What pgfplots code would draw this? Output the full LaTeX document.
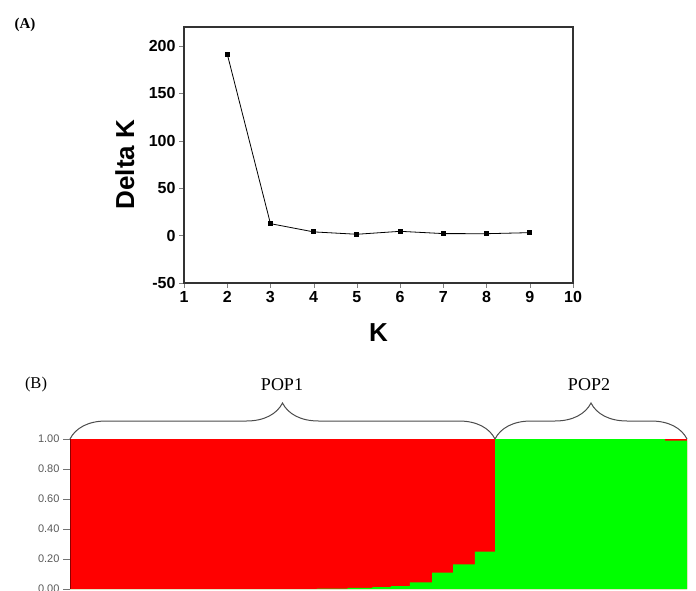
\documentclass[border=0pt]{standalone}
\usepackage{fontspec}
\setmainfont{Liberation Serif}
\setsansfont{Liberation Sans}
\usepackage{pgfplots}
\usepackage{pgfplotstable}
\pgfplotsset{compat=1.18}
\usetikzlibrary{decorations.pathreplacing}

% (A) Delta K against K
\pgfplotstableread{
K deltaK
2 191.6
3 12.6
4 3.9
5 1.4
6 4.5
7 2.1
8 2.0
9 3.1
}\deltak

% (B) green share, read along the ordered individuals
\pgfplotstableread{
x q
0 0
40 0.003
45 0.008
49 0.012
52 0.02
55.1 0.045
58.7 0.11
62.1 0.165
65.6 0.25
68.9 1.0
96.4 0.99
100 0.99
}\popq

\begin{document}
\begin{tikzpicture}
\useasboundingbox (0,0) rectangle (696pt,590pt);

\node[font=\bfseries\fontsize{15}{15}\selectfont] at (25pt,565pt) {(A)};
\begin{axis}[
  at={(184pt,307pt)}, anchor=south west,
  scale only axis, width=389pt, height=256pt,
  xmin=1, xmax=10, ymin=-50, ymax=220,
  xtick={1,...,10}, ytick={-50,0,50,100,150,200},
  tick align=outside, tick pos=left,
  major tick length=5pt,
  axis line style={line width=1.2pt, black!80},
  /pgf/number format/assume math mode=true,
  ticklabel style={font=\sffamily\bfseries\fontsize{16}{16}\selectfont},
  xlabel={K}, ylabel={Delta K},
  label style={font=\sffamily\bfseries\fontsize{26}{26}\selectfont},
  xlabel style={at={(axis description cs:0.5,-0.195)}, anchor=center},
  ylabel style={at={(axis description cs:-0.152,0.463)}, anchor=center},
]
\addplot[black, line width=0.8pt, mark=square*, mark size=2pt] table[x=K,y=deltaK]{\deltak};
\end{axis}

\node[font=\fontsize{16.5}{16.5}\selectfont] at (36pt,205pt) {(B)};
\node[font=\fontsize{18}{18}\selectfont] at (282pt,205pt) {POP1};
\node[font=\fontsize{18}{18}\selectfont] at (589pt,205pt) {POP2};
\draw[black!70, line width=1pt, decorate, decoration={brace, amplitude=36pt}] (70pt,151pt) -- (495pt,151pt);
\draw[black!70, line width=1pt, decorate, decoration={brace, amplitude=36pt}] (495pt,151pt) -- (687pt,151pt);

\begin{axis}[
  at={(70pt,1pt)}, anchor=south west,
  scale only axis, width=617pt, height=150pt,
  xmin=0, xmax=100, ymin=0, ymax=1,
  axis x line=none, axis y line*=left,
  axis on top,
  ytick={0,0.2,0.4,0.6,0.8,1},
  yticklabel style={/pgf/number format/.cd, fixed, fixed zerofill, precision=2},
  tick align=outside, major tick length=7pt,
  y axis line style={red!55!black, line width=0.8pt},
  major tick style={black!55, line width=0.8pt},
  /pgf/number format/assume math mode=true,
  ticklabel style={font=\sffamily\fontsize{11}{11}\selectfont, text=black!65},
]
\addplot[fill=red, draw=none, const plot] coordinates {(0,1) (100,1)} \closedcycle;
\addplot[fill=green, draw=none, const plot mark left] table[x=x,y=q]{\popq} \closedcycle;
\end{axis}
\end{tikzpicture}
\end{document}
